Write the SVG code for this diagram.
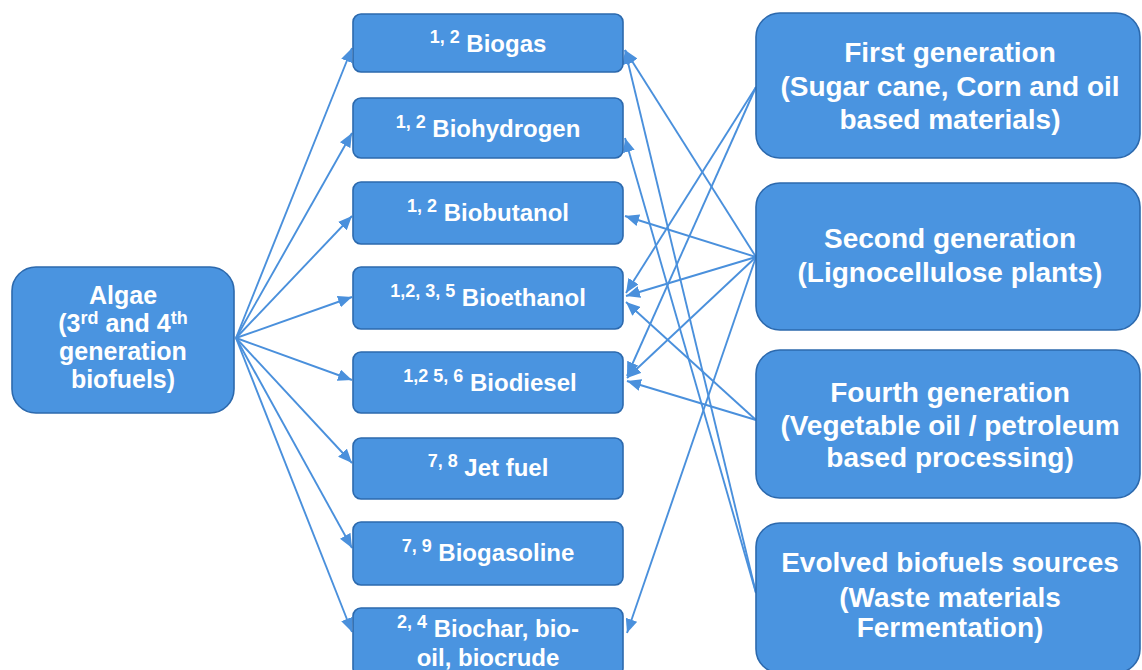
<svg xmlns="http://www.w3.org/2000/svg" width="1142" height="670" viewBox="0 0 1142 670">
<style>
.box{fill:#4a94e0;stroke:#2c69ad;stroke-width:1.6}
.t{font-family:"Liberation Sans",Arial,sans-serif;font-weight:bold;fill:#ffffff;text-anchor:middle}
.m{font-size:24px}
.a{font-size:25px}
.r{font-size:28px}
.s{font-size:18px}
.c line{stroke:#4a90dc;stroke-width:1.9;marker-end:url(#ah)}
</style>
<defs>
<marker id="ah" markerUnits="userSpaceOnUse" markerWidth="14" markerHeight="12" refX="14" refY="6" orient="auto">
<path d="M0,0 L14,6 L0,12 z" fill="#4a90dc"/>
</marker>
</defs>
<rect width="1142" height="670" fill="#ffffff"/>
<g id="connectors" class="c">
<line x1="236" y1="338" x2="352" y2="48"/>
<line x1="236" y1="338" x2="352" y2="133"/>
<line x1="236" y1="338" x2="352" y2="216"/>
<line x1="236" y1="338" x2="352" y2="297"/>
<line x1="236" y1="338" x2="352" y2="380"/>
<line x1="236" y1="338" x2="352" y2="463"/>
<line x1="236" y1="338" x2="352" y2="548"/>
<line x1="236" y1="338" x2="352" y2="632"/>
<line x1="756" y1="257" x2="625" y2="50"/>
<line x1="756" y1="593" x2="625" y2="50"/>
<line x1="756" y1="593" x2="625" y2="138"/>
<line x1="756" y1="257" x2="625" y2="216"/>
<line x1="756" y1="87" x2="626" y2="293"/>
<line x1="756" y1="257" x2="626" y2="296"/>
<line x1="756" y1="420" x2="626" y2="302"/>
<line x1="756" y1="87" x2="627" y2="376"/>
<line x1="756" y1="257" x2="627" y2="378"/>
<line x1="756" y1="420" x2="627" y2="381"/>
<line x1="756" y1="257" x2="627" y2="633"/>
</g>
<g id="algae">
<rect class="box" x="12" y="267" width="222" height="146" rx="24"/>
<text class="t a" x="123" y="304">Algae</text>
<text class="t a" x="123" y="332">(3<tspan class="s" dy="-8">rd</tspan><tspan dy="8"> and 4</tspan><tspan class="s" dy="-8">th</tspan></text>
<text class="t a" x="123" y="360">generation</text>
<text class="t a" x="123" y="388">biofuels)</text>
</g>
<g id="biogas">
<rect class="box" x="353" y="14" width="270" height="58" rx="8"/>
<text class="t m" x="488" y="52"><tspan class="s" dy="-9">1, 2</tspan><tspan dy="9"> Biogas</tspan></text>
</g>
<g id="biohydrogen">
<rect class="box" x="353" y="98" width="270" height="60" rx="8"/>
<text class="t m" x="488" y="137"><tspan class="s" dy="-9">1, 2</tspan><tspan dy="9"> Biohydrogen</tspan></text>
</g>
<g id="biobutanol">
<rect class="box" x="353" y="182" width="270" height="62" rx="8"/>
<text class="t m" x="488" y="221"><tspan class="s" dy="-9">1, 2</tspan><tspan dy="9"> Biobutanol</tspan></text>
</g>
<g id="bioethanol">
<rect class="box" x="353" y="267" width="270" height="62" rx="8"/>
<text class="t m" x="488" y="306"><tspan class="s" dy="-9">1,2, 3, 5</tspan><tspan dy="9"> Bioethanol</tspan></text>
</g>
<g id="biodiesel">
<rect class="box" x="353" y="352" width="270" height="61" rx="8"/>
<text class="t m" x="490" y="391"><tspan class="s" dy="-9">1,2 5, 6</tspan><tspan dy="9"> Biodiesel</tspan></text>
</g>
<g id="jetfuel">
<rect class="box" x="353" y="438" width="270" height="61" rx="8"/>
<text class="t m" x="488" y="476"><tspan class="s" dy="-9">7, 8</tspan><tspan dy="9"> Jet fuel</tspan></text>
</g>
<g id="biogasoline">
<rect class="box" x="353" y="522" width="270" height="63" rx="8"/>
<text class="t m" x="488" y="561"><tspan class="s" dy="-9">7, 9</tspan><tspan dy="9"> Biogasoline</tspan></text>
</g>
<g id="biochar">
<rect class="box" x="353" y="608" width="270" height="68" rx="8"/>
<text class="t m" x="488" y="637"><tspan class="s" dy="-9">2, 4</tspan><tspan dy="9"> Biochar, bio-</tspan></text>
<text class="t m" x="488" y="666">oil, biocrude</text>
</g>
<g id="first">
<rect class="box" x="756" y="13" width="384" height="145" rx="24"/>
<text class="t r" x="950" y="62">First generation</text>
<text class="t r" x="950" y="96">(Sugar cane, Corn and oil</text>
<text class="t r" x="950" y="129">based materials)</text>
</g>
<g id="second">
<rect class="box" x="756" y="183" width="384" height="147" rx="24"/>
<text class="t r" x="950" y="248">Second generation</text>
<text class="t r" x="950" y="282">(Lignocellulose plants)</text>
</g>
<g id="fourth">
<rect class="box" x="756" y="350" width="384" height="148" rx="24"/>
<text class="t r" x="950" y="402">Fourth generation</text>
<text class="t r" x="950" y="435">(Vegetable oil / petroleum</text>
<text class="t r" x="950" y="467">based processing)</text>
</g>
<g id="evolved">
<rect class="box" x="756" y="523" width="384" height="150" rx="24"/>
<text class="t r" x="950" y="572">Evolved biofuels sources</text>
<text class="t r" x="950" y="607">(Waste materials</text>
<text class="t r" x="950" y="637">Fermentation)</text>
</g>
</svg>
